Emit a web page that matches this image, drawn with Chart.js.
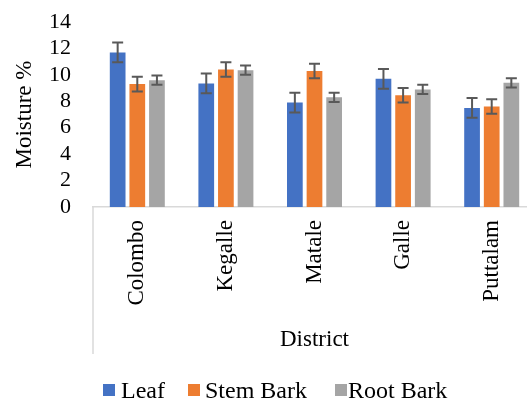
<!DOCTYPE html>
<html>
<head>
<meta charset="utf-8">
<script src="https://cdn.jsdelivr.net/npm/chart.js@4.4.1/dist/chart.umd.min.js"></script>
<style>
  html, body { margin: 0; padding: 0; background: #fff; }
  #wrap { position: relative; width: 527px; height: 400px; overflow: hidden; }
  #c { position: absolute; left: 0; top: 0; }
  #legend { position: absolute; left: 0; top: 0; width: 527px; height: 400px; pointer-events: none;
            font-family: "Liberation Serif", "Times New Roman", serif; font-size: 24px; color: #000; }
  .box { position: absolute; width: 12px; height: 12px; top: 384px; }
  .txt { position: absolute; top: 376px; line-height: 28px; white-space: nowrap; }
</style>
</head>
<body>
<div id="wrap">
  <canvas id="c" width="545" height="354" style="width:545px;height:354px"></canvas>
  <div id="legend"></div>
</div>
<script>
const categories = ["Colombo", "Kegalle", "Matale", "Galle", "Puttalam"];
const seriesNames = ["Leaf", "Stem Bark", "Root Bark"];
const leaf = [11.7, 9.35, 7.9, 9.7, 7.5];
const stemBark = [9.3, 10.4, 10.3, 8.45, 7.6];
const rootBark = [9.6, 10.35, 8.3, 8.9, 9.4];
const leafErr = [0.75, 0.75, 0.75, 0.75, 0.75];
const stemBarkErr = [0.55, 0.55, 0.55, 0.55, 0.55];
const rootBarkErr = [0.35, 0.35, 0.35, 0.35, 0.35];
const yTicks = [0, 2, 4, 6, 8, 10, 12, 14];
const colors = ["#4472C4", "#ED7D31", "#A5A5A5"];

const FONT = "'Liberation Serif', 'Times New Roman', serif";
const values = [leaf, stemBark, rootBark];
const errs = [leafErr, stemBarkErr, rootBarkErr];

const errorBars = {
  id: 'errorBars',
  afterDatasetsDraw(chart) {
    const ctx = chart.ctx;
    const ys = chart.scales.y;
    ctx.save();
    ctx.strokeStyle = '#595959';
    ctx.lineWidth = 2;
    chart.data.datasets.forEach((ds, i) => {
      const meta = chart.getDatasetMeta(i);
      meta.data.forEach((bar, j) => {
        const v = ds.data[j], e = errs[i][j];
        const x = bar.x;
        const yt = ys.getPixelForValue(v + e);
        const yb = ys.getPixelForValue(v - e);
        const cw = 5.5;
        ctx.beginPath();
        ctx.moveTo(x, yt); ctx.lineTo(x, yb);
        ctx.moveTo(x - cw, yt); ctx.lineTo(x + cw, yt);
        ctx.moveTo(x - cw, yb); ctx.lineTo(x + cw, yb);
        ctx.stroke();
      });
    });
    ctx.restore();
  }
};

const frameLine = {
  id: 'frameLine',
  afterDraw(chart) {
    const ctx = chart.ctx;
    const a = chart.chartArea;
    ctx.save();
    ctx.strokeStyle = '#d9d9d9';
    ctx.lineWidth = 1.5;
    ctx.beginPath();
    ctx.moveTo(a.left, a.bottom);
    ctx.lineTo(a.left, chart.height);
    ctx.stroke();
    ctx.restore();
  }
};

new Chart(document.getElementById('c'), {
  type: 'bar',
  data: {
    labels: categories,
    datasets: seriesNames.map((n, i) => ({
      label: n,
      data: values[i],
      backgroundColor: colors[i],
      borderWidth: 0,
      categoryPercentage: 0.665,
      barPercentage: 0.8
    }))
  },
  options: {
    responsive: false,
    animation: false,
    layout: { padding: { top: 22, right: 9, bottom: 0, left: 0 } },
    plugins: { legend: { display: false }, tooltip: { enabled: false } },
    scales: {
      x: {
        grid: { display: false, drawTicks: false },
        border: { display: true, color: '#d9d9d9', width: 1.5 },
        ticks: { color: '#000', font: { family: FONT, size: 23 }, maxRotation: 90, minRotation: 90, padding: 13, autoSkip: false },
        title: { display: true, text: 'District', color: '#000', font: { family: FONT, size: 23 }, padding: { top: 0, bottom: 0 } },
        afterFit(s) { s.height = 147; s.paddingLeft = 0; s.paddingRight = 0; }
      },
      y: {
        min: 0, max: 14,
        afterBuildTicks(s) { s.ticks = yTicks.map(v => ({ value: v })); },
        grid: { display: false, drawTicks: false },
        border: { display: false },
        ticks: { color: '#000', font: { family: FONT, size: 22 }, padding: 22, autoSkip: false },
        title: { display: true, text: 'Moisture %', color: '#000', font: { family: FONT, size: 23 }, padding: { top: 11, bottom: 0 } },
        afterFit(s) { s.width = 93; s.paddingTop = 0; s.paddingBottom = 0; }
      }
    }
  },
  plugins: [errorBars, frameLine]
});

const boxLeft = [103, 188, 335];
const textLeft = [121, 205, 348];
const lg = document.getElementById('legend');
seriesNames.forEach((n, i) => {
  const b = document.createElement('div');
  b.className = 'box';
  b.style.background = colors[i];
  b.style.left = boxLeft[i] + 'px';
  const t = document.createElement('div');
  t.className = 'txt';
  t.style.left = textLeft[i] + 'px';
  t.textContent = n;
  lg.appendChild(b); lg.appendChild(t);
});
</script>
</body>
</html>
